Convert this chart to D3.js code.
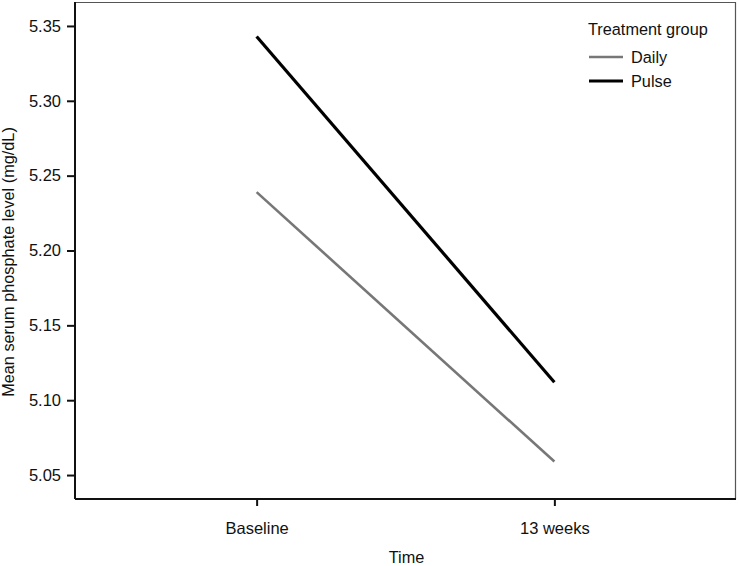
<!DOCTYPE html>
<html>
<head>
<meta charset="utf-8">
<script src="https://cdn.jsdelivr.net/npm/d3@7"></script>
<style>
  body { margin: 0; background: #fff; }
  text { font-family: "Liberation Sans", Arial, sans-serif; fill: #111; }
</style>
</head>
<body>
<div id="chart"></div>
<script>
var timePoints = ["Baseline", "13 weeks"];
var groups = ["Daily", "Pulse"];
var dailyValues = [5.239, 5.059];
var pulseValues = [5.343, 5.112];
var yTicks = [5.05, 5.10, 5.15, 5.20, 5.25, 5.30, 5.35];

var svgWidth = 739;
var svgHeight = 566;
var margin = { top: 2, right: 3, bottom: 67, left: 75 };
var width = svgWidth - margin.left - margin.right;
var height = svgHeight - margin.top - margin.bottom;

var svg = d3.select("#chart")
    .append("svg")
    .attr("width", svgWidth)
    .attr("height", svgHeight);

var chartGroup = svg.append("g")
    .attr("transform", `translate(${margin.left}, ${margin.top})`);

var xScale = d3.scalePoint()
    .domain(timePoints)
    .range([0, width])
    .padding(0.61);

var yScale = d3.scaleLinear()
    .domain([5.034, 5.366])
    .range([height, 0]);

// frame (top/right thin grey)
chartGroup.append("path")
    .attr("d", `M0,0.5H${width - 0.5}V${height}`)
    .attr("fill", "none")
    .attr("stroke", "#555")
    .attr("stroke-width", 1.2);

var yAxis = d3.axisLeft(yScale)
    .tickValues(yTicks)
    .tickFormat(d3.format(".2f"))
    .tickSize(8)
    .tickPadding(6);

var xAxis = d3.axisBottom(xScale)
    .tickSize(7)
    .tickPadding(16);

var gy = chartGroup.append("g").call(yAxis);
var gx = chartGroup.append("g")
    .attr("transform", `translate(0, ${height})`)
    .call(xAxis);

[gx, gy].forEach(function(g) {
  g.select(".domain").attr("stroke", "#111").attr("stroke-width", 2);
  g.selectAll(".tick line").attr("stroke", "#111").attr("stroke-width", 2);
  g.selectAll(".tick text")
    .attr("font-size", "16.5px")
    .attr("font-family", "Liberation Sans, Arial, sans-serif")
    .attr("fill", "#111");
});
gx.select(".domain").attr("d", `M0,0H${width}`);
gy.select(".domain").attr("d", `M0,0V${height}`);

var series = [
  { name: "Daily", values: dailyValues, color: "#777", w: 2.6 },
  { name: "Pulse", values: pulseValues, color: "#000", w: 3.2 }
];

var line = d3.line()
    .x(function(d, i) { return xScale(timePoints[i]); })
    .y(function(d) { return yScale(d); });

chartGroup.selectAll(".series")
    .data(series)
    .enter()
    .append("path")
    .attr("class", "series")
    .attr("d", function(s) { return line(s.values); })
    .attr("fill", "none")
    .attr("stroke", function(s) { return s.color; })
    .attr("stroke-width", function(s) { return s.w; });

// legend
var legend = svg.append("g").attr("transform", "translate(588, 0)");
legend.append("text")
    .attr("x", 0)
    .attr("y", 35)
    .attr("font-size", "16.3px")
    .text("Treatment group");

var items = legend.selectAll(".item")
    .data(series)
    .enter()
    .append("g")
    .attr("transform", function(d, i) { return `translate(0, ${57 + i * 24})`; });

items.append("line")
    .attr("x1", 1).attr("x2", 35)
    .attr("y1", 0).attr("y2", 0)
    .attr("stroke", function(d) { return d.color; })
    .attr("stroke-width", function(d) { return d.w; });

items.append("text")
    .attr("x", 43)
    .attr("y", 6)
    .attr("font-size", "16.3px")
    .text(function(d) { return d.name; });

// axis titles
svg.append("text")
    .attr("transform", `translate(${margin.left + width / 2 + 1}, 563)`)
    .attr("text-anchor", "middle")
    .attr("font-size", "16.3px")
    .text("Time");

svg.append("text")
    .attr("transform", "translate(14, 262) rotate(-90)")
    .attr("text-anchor", "middle")
    .attr("font-size", "16.3px")
    .text("Mean serum phosphate level (mg/dL)");
</script>
</body>
</html>
